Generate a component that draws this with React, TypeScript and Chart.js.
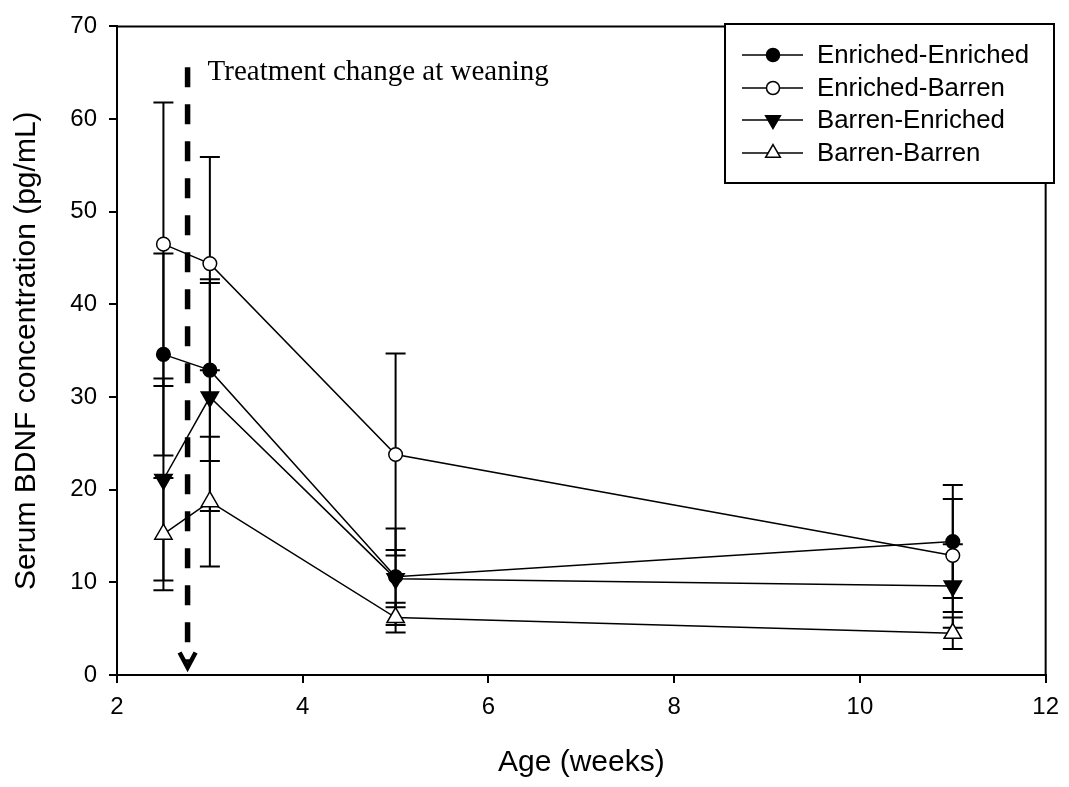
import React, { useEffect, useRef } from 'react';
import { Chart, registerables } from 'chart.js';

Chart.register(...registerables);

// ---- Data ----
const AGES = [2.5, 3, 5, 11];
const SERIES_NAMES = ['Enriched-Enriched', 'Enriched-Barren', 'Barren-Enriched', 'Barren-Barren'];
const EE_MEAN = [34.6, 32.9, 10.6, 14.4];
const EE_SE = [10.9, 9.8, 5.2, 6.1];
const EB_MEAN = [46.5, 44.4, 23.8, 12.9];
const EB_SE = [15.3, 11.5, 10.9, 6.1];
const BE_MEAN = [21.1, 30.0, 10.4, 9.6];
const BE_SE = [10.9, 12.3, 3.1, 4.5];
const BB_MEAN = [15.2, 18.7, 6.2, 4.5];
const BB_SE = [6.05, 7.0, 1.6, 1.7];
const X_TICKS = [2, 4, 6, 8, 10, 12];
const Y_TICKS = [0, 10, 20, 30, 40, 50, 60, 70];
const X_TITLE = 'Age (weeks)';
const Y_TITLE = 'Serum BDNF concentration (pg/mL)';
const ANNOTATION_TEXT = 'Treatment change at weaning';
const WEANING_AGE = 2.76;
const ARROW_TOP = 65.6;
const ARROW_BOTTOM = 0.7;

const SANS = '"Liberation Sans", Arial, sans-serif';
const SERIF = '"Liberation Serif", "Times New Roman", serif';

type Marker = { style: 'circle' | 'triangle'; fill: string; rotation: number; radius: number };
const MARKERS: Marker[] = [
  { style: 'circle', fill: '#000', rotation: 0, radius: 6.8 },
  { style: 'circle', fill: '#fff', rotation: 0, radius: 6.8 },
  { style: 'triangle', fill: '#000', rotation: 180, radius: 10 },
  { style: 'triangle', fill: '#fff', rotation: 0, radius: 10 },
];

function drawMarker(ctx: CanvasRenderingContext2D, m: Marker, x: number, y: number, r: number) {
  ctx.save();
  ctx.fillStyle = m.fill;
  ctx.strokeStyle = '#000';
  ctx.lineWidth = 1.5;
  ctx.beginPath();
  if (m.style === 'circle') {
    ctx.arc(x, y, r, 0, Math.PI * 2);
  } else {
    let rad = (m.rotation * Math.PI) / 180;
    for (let k = 0; k < 3; k++) {
      const px = x + Math.sin(rad) * r;
      const py = y - Math.cos(rad) * r;
      if (k === 0) ctx.moveTo(px, py);
      else ctx.lineTo(px, py);
      rad += (2 * Math.PI) / 3;
    }
    ctx.closePath();
  }
  ctx.fill();
  ctx.stroke();
  ctx.restore();
}

const errorBarPlugin = {
  id: 'errorBars',
  beforeDatasetsDraw(chart: any) {
    const { ctx, scales } = chart;
    const xs = scales.x;
    const ys = scales.y;
    ctx.save();
    ctx.strokeStyle = '#000';
    ctx.lineWidth = 2;
    chart.data.datasets.forEach((ds: any) => {
      ds.data.forEach((pt: any, i: number) => {
        const se = ds.errors[i];
        const px = xs.getPixelForValue(pt.x);
        const top = ys.getPixelForValue(pt.y + se);
        const bot = ys.getPixelForValue(pt.y - se);
        ctx.beginPath();
        ctx.moveTo(px, top);
        ctx.lineTo(px, bot);
        ctx.moveTo(px - 10, top);
        ctx.lineTo(px + 10, top);
        ctx.moveTo(px - 10, bot);
        ctx.lineTo(px + 10, bot);
        ctx.stroke();
      });
    });
    ctx.restore();
  },
};

const decorPlugin = {
  id: 'decor',
  afterDraw(chart: any) {
    const { ctx, chartArea, scales } = chart;
    const xs = scales.x;
    const ys = scales.y;
    ctx.save();
    // frame top & right
    ctx.strokeStyle = '#000';
    ctx.lineWidth = 2;
    ctx.beginPath();
    ctx.moveTo(chartArea.left, chartArea.top);
    ctx.lineTo(chartArea.right, chartArea.top);
    ctx.lineTo(chartArea.right, chartArea.bottom);
    ctx.stroke();

    // dashed arrow
    const ax = xs.getPixelForValue(WEANING_AGE);
    const atop = ys.getPixelForValue(ARROW_TOP);
    const abot = ys.getPixelForValue(ARROW_BOTTOM);
    ctx.lineWidth = 5.5;
    ctx.setLineDash([20, 17]);
    ctx.beginPath();
    ctx.moveTo(ax, atop);
    ctx.lineTo(ax, abot - 6);
    ctx.stroke();
    ctx.setLineDash([]);
    ctx.lineWidth = 4.5;
    ctx.lineJoin = 'miter';
    ctx.beginPath();
    ctx.moveTo(ax - 8, abot - 16);
    ctx.lineTo(ax, abot - 1);
    ctx.lineTo(ax + 8, abot - 16);
    ctx.stroke();

    // annotation text
    ctx.fillStyle = '#000';
    ctx.font = `29px ${SERIF}`;
    ctx.textAlign = 'left';
    ctx.textBaseline = 'alphabetic';
    ctx.fillText(ANNOTATION_TEXT, ax + 20, atop + 13);

    // legend box
    const bx = 725, by = 24, bw = 329, bh = 159;
    ctx.fillStyle = '#fff';
    ctx.fillRect(bx, by, bw, bh);
    ctx.lineWidth = 2;
    ctx.strokeStyle = '#000';
    ctx.strokeRect(bx, by, bw, bh);
    const rowY = [55, 88, 120, 153];
    chart.data.datasets.forEach((ds: any, i: number) => {
      const y = rowY[i];
      ctx.lineWidth = 1.5;
      ctx.strokeStyle = '#000';
      ctx.beginPath();
      ctx.moveTo(742, y);
      ctx.lineTo(803, y);
      ctx.stroke();
      const m = MARKERS[i];
      drawMarker(ctx, m, 773, y, m.style === 'circle' ? 6.5 : 8.5);
      ctx.fillStyle = '#000';
      ctx.font = `25.8px ${SANS}`;
      ctx.textBaseline = 'middle';
      ctx.fillText(ds.label, 817, y + 1);
    });
    ctx.restore();
  },
};

export default function App() {
  const canvasRef = useRef<HTMLCanvasElement | null>(null);

  useEffect(() => {
    document.body.style.margin = '0';
    const canvas = canvasRef.current;
    if (!canvas) return;
    const means = [EE_MEAN, EB_MEAN, BE_MEAN, BB_MEAN];
    const ses = [EE_SE, EB_SE, BE_SE, BB_SE];
    const datasets = SERIES_NAMES.map((name, i) => ({
      label: name,
      data: AGES.map((a, j) => ({ x: a, y: means[i][j] })),
      errors: ses[i],
      borderColor: '#000',
      borderWidth: 1.5,
      backgroundColor: MARKERS[i].fill,
      pointBackgroundColor: MARKERS[i].fill,
      pointBorderColor: '#000',
      pointBorderWidth: 1.5,
      pointStyle: MARKERS[i].style,
      pointRotation: MARKERS[i].rotation,
      pointRadius: MARKERS[i].radius,
      pointHoverRadius: MARKERS[i].radius,
      tension: 0,
      fill: false,
    }));

    const chart = new Chart(canvas, {
      type: 'line',
      data: { datasets } as any,
      plugins: [errorBarPlugin, decorPlugin],
      options: {
        responsive: false,
        animation: false,
        devicePixelRatio: 1,
        layout: { padding: { top: 22, right: 22, left: 0, bottom: 0 } },
        plugins: {
          legend: { display: false },
          tooltip: { enabled: false },
        },
        scales: {
          x: {
            type: 'linear',
            min: 2,
            max: 12,
            afterBuildTicks: (s: any) => {
              s.ticks = X_TICKS.map((v) => ({ value: v }));
            },
            ticks: {
              color: '#000',
              font: { family: SANS, size: 24 },
              padding: 10,
              maxRotation: 0,
            },
            grid: {
              drawOnChartArea: false,
              drawTicks: true,
              tickLength: 8,
              color: '#000',
              lineWidth: 2,
            },
            border: { color: '#000', width: 2 },
            title: {
              display: true,
              text: X_TITLE,
              color: '#000',
              font: { family: SANS, size: 30 },
              padding: { top: 0, bottom: 6 },
            },
            afterFit: (s: any) => {
              s.height = 112;
            },
          },
          y: {
            type: 'linear',
            min: 0,
            max: 70,
            afterBuildTicks: (s: any) => {
              s.ticks = Y_TICKS.map((v) => ({ value: v }));
            },
            ticks: {
              color: '#000',
              font: { family: SANS, size: 24 },
              padding: 12,
            },
            grid: {
              drawOnChartArea: false,
              drawTicks: true,
              tickLength: 8,
              color: '#000',
              lineWidth: 2,
            },
            border: { color: '#000', width: 2 },
            title: {
              display: true,
              text: Y_TITLE,
              color: '#000',
              font: { family: SANS, size: 30 },
              padding: { top: 9, bottom: 0 },
            },
            afterFit: (s: any) => {
              s.width = 117;
            },
          },
        },
      } as any,
    });
    return () => chart.destroy();
  }, []);

  return (
    <div style={{ width: 1069, height: 787 }}>
      <canvas ref={canvasRef} width={1069} height={787} style={{ display: 'block' }} />
    </div>
  );
}
